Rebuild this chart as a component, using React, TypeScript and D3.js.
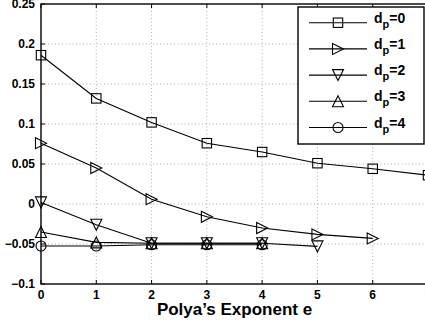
import React from 'react';
import * as d3 from 'd3';

const W = 425;
const H = 324;

// Polya's exponent e and the curves for each d_p
const xTicks = [0, 1, 2, 3, 4, 5, 6, 7];
const yTicks = [-0.1, -0.05, 0, 0.05, 0.1, 0.15, 0.2, 0.25];
const yTickLabels = ['\u22120.1', '\u22120.05', '0', '0.05', '0.1', '0.15', '0.2', '0.25'];

const dp0 = [0.186, 0.132, 0.102, 0.076, 0.065, 0.051, 0.044, 0.036];
const dp1 = [0.076, 0.045, 0.006, -0.016, -0.03, -0.038, -0.043];
const dp2 = [0.002, -0.026, -0.049, -0.049, -0.049, -0.053];
const dp3 = [-0.035, -0.048, -0.049, -0.049, -0.049];
const dp4 = [-0.0525, -0.0525, -0.051, -0.051, -0.051];

const seriesNames = ['0', '1', '2', '3', '4'];
const seriesValues = [dp0, dp1, dp2, dp3, dp4];
const markers = ['square', 'right', 'down', 'up', 'circle'];

const FONT = 'Liberation Sans, Arial, Helvetica, sans-serif';

const Marker: React.FC<{ kind: string; cx: number; cy: number }> = ({ kind, cx, cy }) => {
  const h = 5.5;
  const common = { fill: 'none', stroke: '#000', strokeWidth: 1.1 };
  if (kind === 'square') {
    return <rect x={cx - 4.7} y={cy - 4.7} width={9.4} height={9.4} {...common} />;
  }
  if (kind === 'circle') {
    return <circle cx={cx} cy={cy} r={5} {...common} />;
  }
  let pts: number[][] = [];
  if (kind === 'right') pts = [[-h, -h], [h, 0], [-h, h]];
  if (kind === 'down') pts = [[-h, -h], [h, -h], [0, h]];
  if (kind === 'up') pts = [[-h, h], [h, h], [0, -h]];
  return (
    <polygon
      points={pts.map(p => `${cx + p[0]},${cy + p[1]}`).join(' ')}
      {...common}
    />
  );
};

const App: React.FC = () => {
  const x = d3.scaleLinear().domain([0, 7]).range([41, 428]);
  const y = d3.scaleLinear().domain([-0.1, 0.25]).range([284, 4]);

  const line = d3
    .line<number>()
    .x((_, i) => x(i))
    .y(d => y(d));

  const left = x(0);
  const right = x(7);
  const top = y(0.25);
  const bottom = y(-0.1);

  // legend layout
  const lgX = 298;
  const lgY = 7;
  const lgW = 126;
  const lgH = 137;

  return (
    <svg
      width={W}
      height={H}
      style={{ position: 'absolute', left: 0, top: 0, background: '#fff' }}
      fontFamily={FONT}
    >
      <rect x={0} y={0} width={W} height={H} fill="#fff" />

      {/* grid */}
      <g stroke="#999" strokeWidth={0.8} strokeDasharray="1,2.5">
        {xTicks.slice(1, -1).map(t => (
          <line key={'gx' + t} x1={x(t)} x2={x(t)} y1={top} y2={bottom} />
        ))}
        {yTicks.slice(1, -1).map(t => (
          <line key={'gy' + t} x1={left} x2={right} y1={y(t)} y2={y(t)} />
        ))}
      </g>

      {/* ticks */}
      <g stroke="#000" strokeWidth={1}>
        {xTicks.map(t => (
          <g key={'tx' + t}>
            <line x1={x(t)} x2={x(t)} y1={bottom} y2={bottom - 4} />
            <line x1={x(t)} x2={x(t)} y1={top} y2={top + 4} />
          </g>
        ))}
        {yTicks.map(t => (
          <line key={'ty' + t} x1={left} x2={left + 4} y1={y(t)} y2={y(t)} />
        ))}
      </g>

      {/* axes box */}
      <rect
        x={left}
        y={top}
        width={right - left}
        height={bottom - top}
        fill="none"
        stroke="#000"
        strokeWidth={1.4}
      />

      {/* lines */}
      {seriesValues.map((vals, si) => (
        <path key={'l' + si} d={line(vals) || ''} fill="none" stroke="#000" strokeWidth={1.1} />
      ))}

      {/* tick labels */}
      <g fontSize={12} fontWeight="bold" fill="#000">
        {xTicks.map(t => (
          <text key={'lx' + t} x={x(t)} y={bottom + 15} textAnchor="middle">
            {t}
          </text>
        ))}
        {yTicks.map((t, i) => (
          <text key={'ly' + t} x={left - 6} y={y(t) + 4} textAnchor="end">
            {yTickLabels[i]}
          </text>
        ))}
      </g>

      {/* markers */}
      {seriesValues.map((vals, si) =>
        vals.map((v, i) => (
          <Marker key={'m' + si + '_' + i} kind={markers[si]} cx={x(i)} cy={y(v)} />
        ))
      )}

      {/* x label */}
      <text
        x={(left + right) / 2}
        y={315}
        textAnchor="middle"
        fontSize={17}
        fontWeight="bold"
      >
        Polya’s Exponent e
      </text>

      {/* legend */}
      <rect x={lgX} y={lgY} width={lgW} height={lgH} fill="#fff" stroke="#000" strokeWidth={1.4} />
      {seriesNames.map((name, i) => {
        const ly = 22.7 + i * 26.2;
        return (
          <g key={'lg' + i}>
            <line x1={309} x2={367} y1={ly} y2={ly} stroke="#000" strokeWidth={1.1} />
            <Marker kind={markers[i]} cx={338} cy={ly} />
            <text x={374} y={ly} fontSize={14} fontWeight="bold">
              d
              <tspan dy={5} fontSize={11}>p</tspan>
              <tspan dy={-5} fontSize={14}>={name}</tspan>
            </text>
          </g>
        );
      })}
    </svg>
  );
};

export default App;
